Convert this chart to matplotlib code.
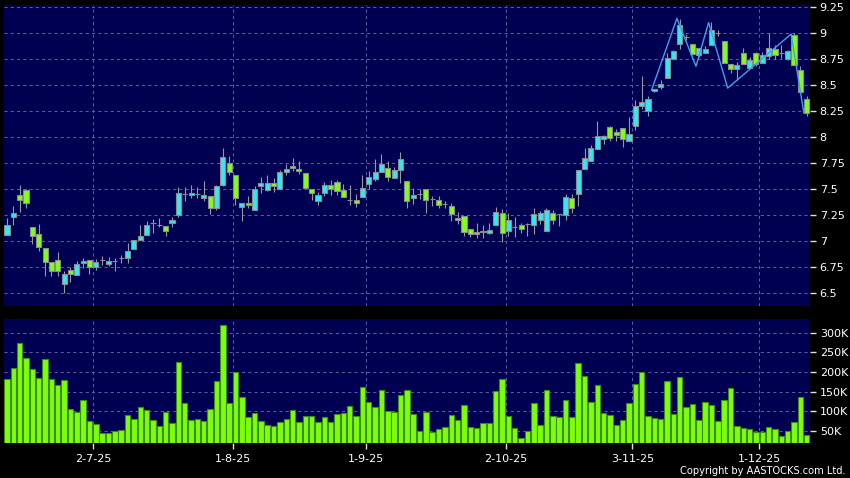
import matplotlib
matplotlib.use("Agg")
import matplotlib.pyplot as plt
import numpy as np

# 日足データ (2025-06-11 ~ 2025-12-10)
opens = [7.06, 7.23, 7.44, 7.49, 7.13, 7.07, 6.93, 6.80, 6.82, 6.59,
         6.72, 6.67, 6.785, 6.82, 6.75, 6.82, 6.78, 6.81, 6.84, 6.84,
         6.92, 7.01, 7.06, 7.17, 7.15, 7.14, 7.17, 7.25, 7.45, 7.44,
         7.45, 7.41, 7.43, 7.32, 7.54, 7.75, 7.63, 7.33, 7.37, 7.30,
         7.53, 7.49, 7.56, 7.50, 7.66, 7.70, 7.69, 7.65, 7.50, 7.38,
         7.46, 7.54, 7.57, 7.49, 7.39, 7.39, 7.42, 7.55, 7.60, 7.66,
         7.70, 7.61, 7.68, 7.58, 7.41, 7.45, 7.50, 7.40, 7.39, 7.36,
         7.34, 7.20, 7.24, 7.12, 7.09, 7.10, 7.08, 7.15, 7.27, 7.10,
         7.13, 7.15, 7.16, 7.15, 7.20, 7.10, 7.27, 7.26, 7.25, 7.41,
         7.45, 7.69, 7.77, 7.88, 7.98, 8.10, 8.05, 8.09, 7.96, 8.11,
         8.30, 8.25, 8.44, 8.48, 8.57, 8.75, 8.89, 8.96, 8.89, 8.79,
         8.81, 8.88, 9.00, 8.92, 8.70, 8.65, 8.81, 8.66, 8.81, 8.71,
         8.78, 8.85, 8.81, 8.75, 8.98, 8.64, 8.37]
highs = [7.22, 7.34, 7.54, 7.50, 7.13, 7.16, 6.93, 6.80, 6.89, 6.71,
         6.75, 6.81, 6.84, 6.82, 6.83, 6.86, 6.85, 6.84, 6.87, 6.98,
         7.01, 7.15, 7.19, 7.21, 7.22, 7.14, 7.23, 7.52, 7.52, 7.54,
         7.52, 7.58, 7.43, 7.54, 7.89, 7.82, 7.63, 7.37, 7.43, 7.53,
         7.62, 7.63, 7.61, 7.68, 7.74, 7.80, 7.77, 7.65, 7.50, 7.47,
         7.57, 7.59, 7.59, 7.55, 7.54, 7.45, 7.63, 7.67, 7.79, 7.84,
         7.77, 7.71, 7.86, 7.58, 7.51, 7.50, 7.50, 7.43, 7.43, 7.38,
         7.37, 7.28, 7.24, 7.12, 7.17, 7.15, 7.17, 7.33, 7.31, 7.27,
         7.23, 7.17, 7.17, 7.32, 7.29, 7.32, 7.30, 7.26, 7.45, 7.45,
         7.68, 7.89, 7.92, 8.15, 8.02, 8.11, 8.08, 8.09, 8.19, 8.36,
         8.59, 8.39, 8.46, 8.55, 8.81, 8.84, 9.13, 8.99, 8.89, 8.86,
         8.87, 9.11, 9.03, 8.92, 8.70, 8.72, 8.86, 8.77, 8.82, 8.82,
         9.00, 8.88, 8.88, 8.84, 9.00, 8.68, 8.39]
lows = [7.06, 7.15, 7.28, 7.32, 6.97, 6.90, 6.66, 6.66, 6.66, 6.50,
        6.61, 6.67, 6.74, 6.68, 6.72, 6.77, 6.76, 6.71, 6.79, 6.79,
        6.92, 7.01, 7.06, 7.08, 7.13, 7.05, 7.13, 7.23, 7.38, 7.41,
        7.41, 7.38, 7.26, 7.30, 7.53, 7.63, 7.35, 7.19, 7.32, 7.30,
        7.46, 7.48, 7.47, 7.50, 7.63, 7.67, 7.64, 7.51, 7.39, 7.35,
        7.43, 7.44, 7.44, 7.42, 7.35, 7.33, 7.42, 7.50, 7.58, 7.66,
        7.58, 7.61, 7.56, 7.32, 7.36, 7.40, 7.27, 7.34, 7.32, 7.32,
        7.19, 7.16, 7.05, 7.04, 7.03, 7.03, 7.07, 7.15, 6.99, 7.05,
        7.04, 7.08, 7.05, 7.07, 7.16, 7.10, 7.16, 7.14, 7.20, 7.27,
        7.34, 7.69, 7.77, 7.88, 7.93, 7.96, 7.96, 7.90, 7.96, 8.07,
        8.27, 8.20, 8.43, 8.46, 8.57, 8.75, 8.85, 8.93, 8.79, 8.77,
        8.81, 8.88, 8.97, 8.71, 8.62, 8.55, 8.70, 8.66, 8.68, 8.71,
        8.75, 8.75, 8.76, 8.74, 8.69, 8.43, 8.20]
closes = [7.15, 7.27, 7.39, 7.37, 7.05, 6.94, 6.80, 6.71, 6.71, 6.68,
          6.68, 6.78, 6.81, 6.75, 6.80, 6.82, 6.81, 6.81, 6.84, 6.90,
          7.01, 7.05, 7.15, 7.17, 7.15, 7.10, 7.20, 7.46, 7.45, 7.46,
          7.45, 7.44, 7.32, 7.53, 7.81, 7.66, 7.41, 7.37, 7.35, 7.50,
          7.56, 7.56, 7.53, 7.66, 7.69, 7.72, 7.67, 7.51, 7.46, 7.44,
          7.54, 7.50, 7.48, 7.42, 7.39, 7.37, 7.51, 7.62, 7.66, 7.74,
          7.62, 7.68, 7.79, 7.38, 7.44, 7.45, 7.39, 7.40, 7.35, 7.36,
          7.26, 7.22, 7.09, 7.07, 7.07, 7.09, 7.11, 7.28, 7.08, 7.20,
          7.13, 7.12, 7.16, 7.26, 7.27, 7.30, 7.20, 7.26, 7.42, 7.32,
          7.68, 7.80, 7.89, 8.01, 8.01, 7.99, 8.02, 7.98, 8.03, 8.30,
          8.34, 8.37, 8.46, 8.51, 8.76, 8.83, 9.08, 8.96, 8.80, 8.86,
          8.85, 9.03, 9.00, 8.71, 8.65, 8.69, 8.70, 8.74, 8.70, 8.79,
          8.86, 8.79, 8.81, 8.83, 8.69, 8.43, 8.23]
volumes_k = [181, 210, 275, 236, 208, 186, 232, 183, 168, 179,
             106, 99, 129, 76, 69, 46, 46, 49, 53, 91,
             81, 110, 104, 78, 63, 98, 71, 226, 121, 77,
             80, 76, 107, 176, 320, 120, 200, 136, 86, 96,
             75, 64, 62, 72, 80, 103, 74, 89, 88, 73,
             86, 74, 92, 95, 113, 88, 162, 124, 111, 155,
             100, 99, 142, 153, 92, 50, 98, 47, 54, 60,
             90, 78, 115, 59, 58, 70, 70, 152, 183, 89,
             57, 32, 49, 121, 65, 155, 88, 86, 129, 86,
             224, 189, 123, 166, 97, 91, 65, 79, 121, 169,
             200, 89, 83, 80, 176, 93, 188, 112, 119, 78,
             124, 115, 75, 130, 159, 63, 57, 54, 48, 48,
             60, 55, 37, 51, 74, 137, 40]

# 日付目盛り (取引日の番号)
date_idx = [14, 36, 57, 79, 99, 119]
date_labels = ["2-7-25", "1-8-25", "1-9-25", "2-10-25", "3-11-25", "1-12-25"]
price_ticks = [6.5, 6.75, 7.0, 7.25, 7.5, 7.75, 8.0, 8.25, 8.5, 8.75, 9.0, 9.25]
vol_ticks_k = [50, 100, 150, 200, 250, 300]

# ジグザグ線
zigzag_idx = [102, 106, 109, 111, 114, 124, 126]
zigzag_val = [8.45, 9.14, 8.68, 9.10, 8.47, 8.99, 8.23]

# 色
bg = "#000052"
grid_col = "#5c5c99"
up_col = "#33e8f2"
down_col = "#80ff1a"
edge_col = "#8c8c8c"
vol_col = "#7cff0a"
vol_edge = "#3f8a10"
zz_col = "#3fa0ee"

plt.rcParams['font.family'] = 'DejaVu Sans'

fig = plt.figure(figsize=(8.5, 4.78), dpi=100, facecolor="black")
ax = fig.add_axes([4 / 850, 1 - 306 / 478, 806 / 850, 301 / 478])
axv = fig.add_axes([4 / 850, 1 - 443.3 / 478, 806 / 850, 124.3 / 478])

n = len(opens)
x = np.arange(n)
o = np.array(opens)
c = np.array(closes)
h = np.array(highs)
l = np.array(lows)
up = c >= o
grid_x = np.array(date_idx) - 0.45

for a in (ax, axv):
    a.set_facecolor(bg)
    for s in a.spines.values():
        s.set_visible(False)
    a.set_xlim(-0.47, 126.52)
    a.set_xticks(grid_x)
    a.grid(True, color=grid_col, linestyle=(0, (3, 3)), linewidth=0.75)
    a.set_axisbelow(True)
    a.yaxis.tick_right()
    a.tick_params(axis='y', colors='#dddddd', length=4, width=1, pad=3,
                  labelsize=8, labelcolor='white')

# ローソク足
ax.vlines(x, l, h, color="#9a9a9a", linewidth=0.8, zorder=2)
body_bottom = np.minimum(o, c)
body_h = np.abs(c - o)
ax.bar(x, body_h, bottom=body_bottom, width=0.8,
       color=np.where(up, up_col, down_col), edgecolor=edge_col,
       linewidth=0.8, zorder=3)
ax.plot(np.array(zigzag_idx) - 0.45, zigzag_val, color=zz_col,
        linewidth=1.0, zorder=4)

ax.set_ylim(6.375, 9.269)
ax.set_yticks(price_ticks)
ax.set_yticklabels([f"{t:g}" for t in price_ticks])
ax.tick_params(axis='x', bottom=False, labelbottom=False)

# 出来高
axv.bar(x, volumes_k, width=0.86, color=vol_col, edgecolor=vol_edge,
        linewidth=0.8, zorder=3)
axv.set_ylim(18.7, 334.8)
axv.set_yticks(vol_ticks_k)
axv.set_yticklabels([f"{t}K" for t in vol_ticks_k])
axv.set_xticklabels(date_labels)
axv.tick_params(axis='x', colors='#dddddd', length=4, width=1, pad=4,
                labelsize=8, labelcolor='white')

fig.text(846 / 850, 1 - 471 / 478, "Copyright by AASTOCKS.com Ltd.",
         color="white", fontsize=7.1, ha="right", va="center")

fig.savefig("out.png", dpi=100, facecolor="black")
